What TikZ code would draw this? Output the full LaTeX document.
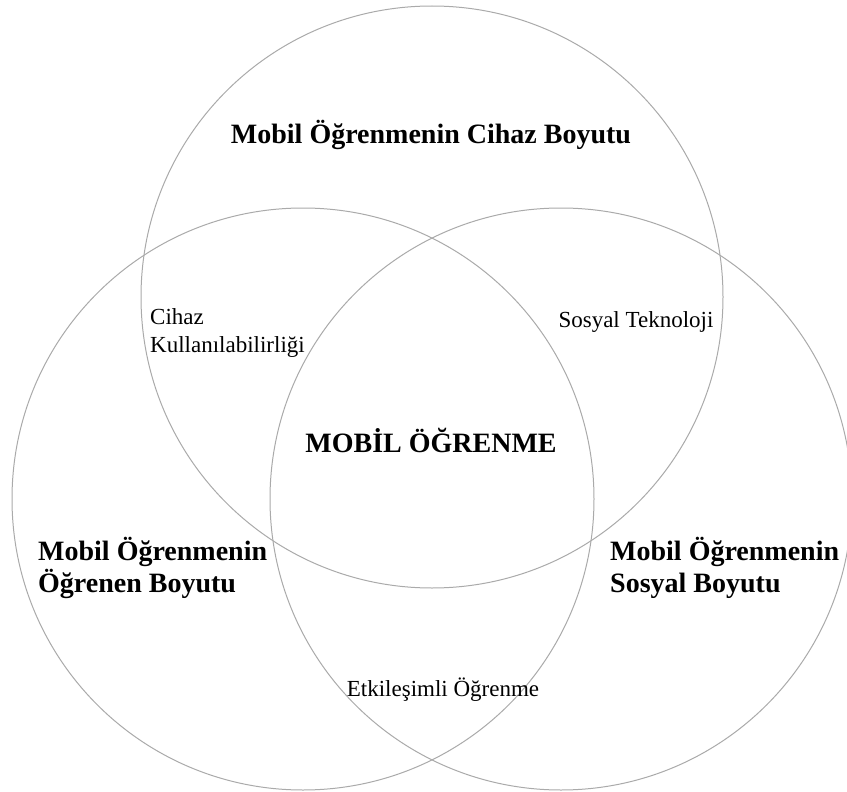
\documentclass[tikz,border=0pt]{standalone}
\usepackage{fontspec}
\setmainfont{Liberation Serif}
\definecolor{ringgray}{RGB}{170,170,170}
\begin{document}
\begin{tikzpicture}[x=1pt,y=-1pt,
  ring/.style={draw=ringgray,line width=1pt,circle,inner sep=0pt,minimum size=582pt},
  bigtxt/.style={font=\fontsize{28}{32}\selectfont\bfseries,inner sep=0pt,align=left},
  smalltxt/.style={font=\fontsize{23}{28}\selectfont,inner sep=0pt,align=left}]
\useasboundingbox[fill=white] (0,0) rectangle (847,792);
\node[ring] (top) at (432,297) {};
\node[ring] (left) at (303,499) {};
\node[ring] (right) at (561,499) {};
\node[bigtxt,anchor=center] (ttop) at (431,135) {Mobil Öğrenmenin Cihaz Boyutu};
\node[bigtxt,anchor=center] (tmid) at (431,440) {MOBİL ÖĞRENME};
\node[bigtxt,anchor=west] (tleft) at (38,568) {Mobil Öğrenmenin\\Öğrenen Boyutu};
\node[bigtxt,anchor=west] (tright) at (610,568) {Mobil Öğrenmenin\\Sosyal Boyutu};
\node[smalltxt,anchor=west] (tcihaz) at (150,333) {Cihaz\\Kullanılabilirliği};
\node[smalltxt,anchor=center] (tsosyal) at (636,322) {Sosyal Teknoloji};
\node[smalltxt,anchor=center] (tetk) at (443,690) {Etkileşimli Öğrenme};
\end{tikzpicture}
\end{document}
